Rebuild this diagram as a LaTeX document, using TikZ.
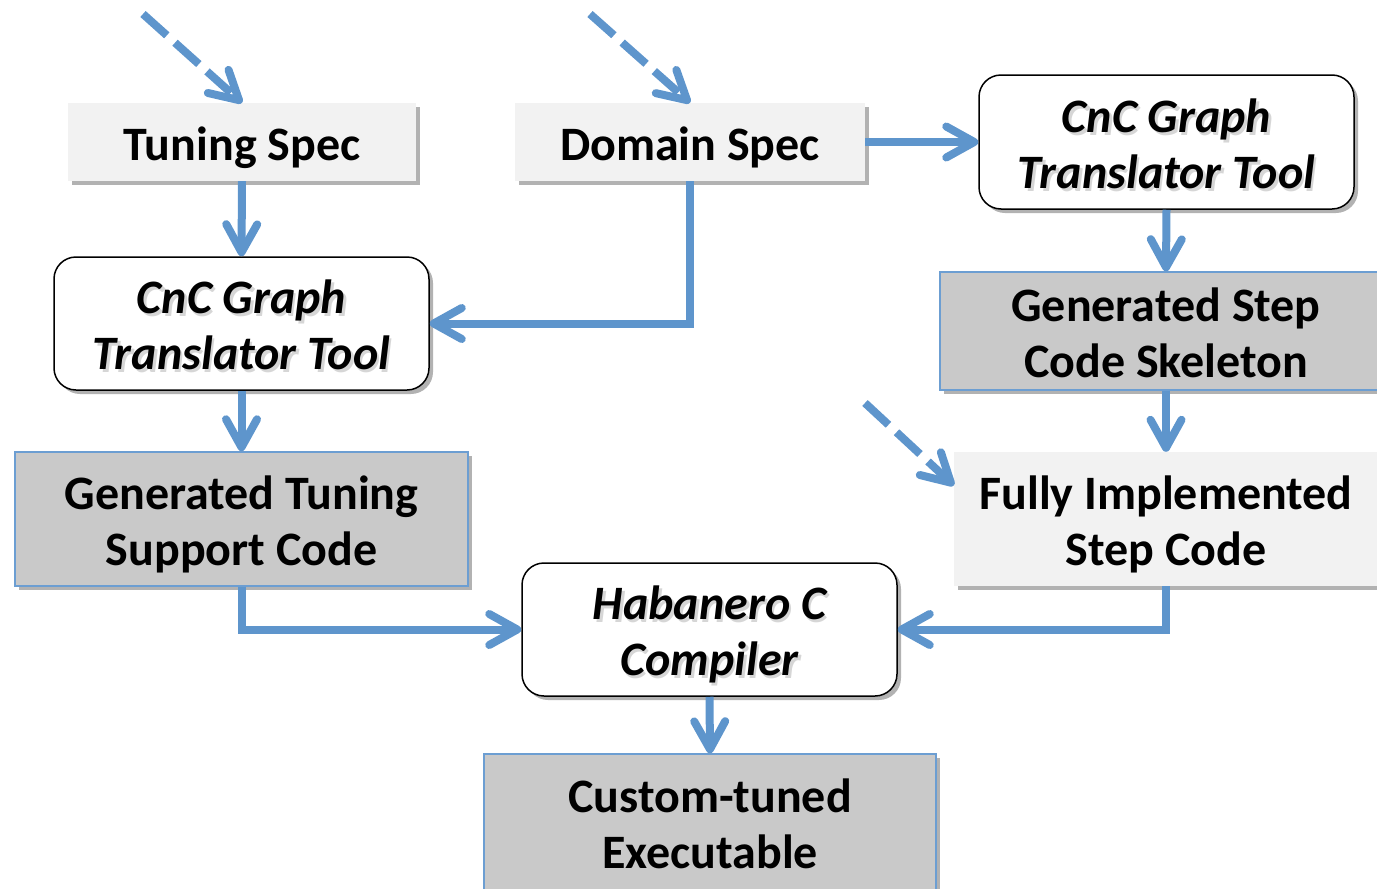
\documentclass[tikz,border=0pt]{standalone}
\usepackage{fontspec}
\setmainfont{Carlito}
\usetikzlibrary{arrows.meta,shadows,calc}

\definecolor{arrowblue}{RGB}{94,149,204}
\definecolor{edgeblue}{RGB}{108,158,210}
\definecolor{lightbox}{RGB}{242,242,242}
\definecolor{darkbox}{RGB}{201,201,201}

% lines of a node, lowered by 7pt while keeping the box size
\newcommand{\tl}[1]{\raisebox{-7pt}[\height][\depth]{\begin{tabular}{@{}c@{}}#1\end{tabular}}}

\tikzset{
  base/.style={align=center, font=\fontsize{48}{56}\selectfont\bfseries, inner sep=0pt},
  boxshadow/.style={drop shadow={shadow xshift=4pt, shadow yshift=-4pt, opacity=0.3, fill=black}},
  plainbox/.style={base, fill=lightbox, boxshadow},
  genbox/.style={base, fill=darkbox, draw=edgeblue, line width=1.5pt, boxshadow},
  tshadow/.style={align=center, font=\fontsize{48}{56}\selectfont\bfseries\itshape, inner sep=0pt,
    text=black!35, opacity=0.45, draw=none, fill=none},
  toolbox/.style={base, font=\fontsize{48}{56}\selectfont\bfseries\itshape, fill=white, draw=black,
    line width=1.5pt, rounded corners=22pt, boxshadow,
    path picture={\node[tshadow] at ($(path picture bounding box.center)+(2.5,3)$) {\tl{#1}};}},
  flow/.style={draw=arrowblue, line width=8pt, -{Straight Barb[round,length=28pt,width=31pt]}},
  dflow/.style={flow, dash pattern=on 32pt off 11pt},
}

\begin{document}
\begin{tikzpicture}[x=1pt,y=-1pt]
\useasboundingbox (0,0) rectangle (1377,889);
\clip (0,0) rectangle (1377,889);

\node[plainbox, minimum width=348pt, minimum height=78pt] (tune) at (242,142) {\tl{Tuning Spec}};
\node[plainbox, minimum width=350pt, minimum height=78pt] (dom) at (690,142) {\tl{Domain Spec}};
\node[toolbox={CnC Graph\\Translator Tool}, minimum width=375pt, minimum height=134pt] (cncR) at (1166.5,142) {\tl{CnC Graph\\Translator Tool}};
\node[toolbox={CnC Graph\\Translator Tool}, minimum width=375pt, minimum height=133pt] (cncL) at (241.5,323.5) {\tl{CnC Graph\\Translator Tool}};
\node[genbox, minimum width=452pt, minimum height=118pt] (gstep) at (1166,331) {\tl{Generated Step\\Code Skeleton}};
\node[plainbox, minimum width=424pt, minimum height=134pt] (fully) at (1166,519) {\tl{Fully Implemented\\Step Code}};
\node[genbox, minimum width=453pt, minimum height=134pt] (gtune) at (241.5,519) {\tl{Generated Tuning\\Support Code}};
\node[toolbox={Habanero C\\Compiler}, minimum width=375pt, minimum height=133pt] (hab) at (709.5,629.5) {\tl{Habanero C\\Compiler}};
\node[genbox, minimum width=452pt, minimum height=136pt] (cust) at (710,822) {\tl{Custom-tuned\\Executable}};

\coordinate (s1) at (143,14);
\coordinate (s2) at (590,14);
\coordinate (s3) at (865,403);
\coordinate (fin) at ($(fully.north west)!0.25!(fully.south west)$);

\draw[dflow] (s1) -- (tune.north);
\draw[dflow] (s2) -- (dom.north);
\draw[dflow] (s3) -- (fin);

\draw[flow] (tune.south) -- (cncL.north);
\draw[flow] (dom.south) |- (cncL.east);
\draw[flow] (dom.east) -- (cncR.west);
\draw[flow] (cncR.south) -- (gstep.north);
\draw[flow] (gstep.south) -- (fully.north);
\draw[flow] (cncL.south) -- (gtune.north);
\draw[flow] (gtune.south) |- (hab.west);
\draw[flow] (fully.south) |- (hab.east);
\draw[flow] (hab.south) -- (cust.north);
\end{tikzpicture}
\end{document}
